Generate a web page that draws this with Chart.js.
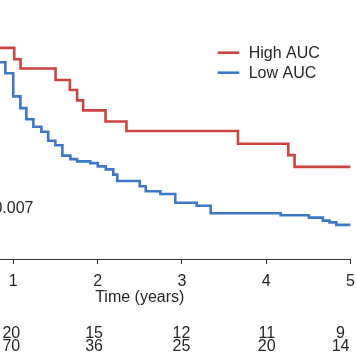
<!DOCTYPE html>
<html><head><meta charset="utf-8">
<script src="https://cdn.jsdelivr.net/npm/chart.js@4"></script>
<style>
html,body{margin:0;padding:0;width:356px;height:364px;overflow:hidden;background:#fff;}
#wrap{position:absolute;left:-100px;top:0;width:463px;height:364px;}
canvas{display:block;}
</style></head><body>
<div id="wrap"><canvas id="c" width="463" height="364"></canvas></div>
<script>
// ---- data ----
const xTicks = [1, 2, 3, 4, 5];
const seriesNames = ['High AUC', 'Low AUC'];
const highTimes = [0.8, 1.011, 1.086, 1.501, 1.671, 1.757, 1.828, 2.094, 2.342, 3.665, 4.262, 4.336, 5.0];
const highSurv  = [0.848, 0.802, 0.765, 0.719, 0.679, 0.637, 0.597, 0.552, 0.514, 0.463, 0.417, 0.370, 0.370];
const lowTimes  = [0.8, 0.906, 0.999, 1.084, 1.155, 1.238, 1.333, 1.414, 1.499, 1.582, 1.677, 1.757, 1.913, 2.002, 2.097, 2.186, 2.233, 2.500, 2.571, 2.745, 2.921, 3.175, 3.341, 4.171, 4.506, 4.672, 4.751, 4.831, 5.0];
const lowSurv   = [0.790, 0.746, 0.653, 0.606, 0.561, 0.531, 0.511, 0.475, 0.457, 0.415, 0.401, 0.392, 0.385, 0.372, 0.360, 0.339, 0.313, 0.292, 0.272, 0.261, 0.226, 0.214, 0.184, 0.176, 0.166, 0.154, 0.147, 0.137, 0.137];
const riskTimes = [1, 2, 3, 4, 5];
const highRisk  = [20, 15, 12, 11, 9];
const lowRisk   = [70, 36, 25, 20, 14];
const pText = 'p = 0.007';

// ---- style ----
const FONT = "'Liberation Sans', Arial, sans-serif";
const TXT = '#262626';
const AX = '#333333';
const RED = '#cc4340';
const BLUE = '#3d78c8';

const toPts = (xs, ys) => xs.map((x, i) => ({x, y: ys[i]}));

const overlay = {
  id: 'overlay',
  afterDraw(chart) {
    const ctx = chart.ctx;
    const xs = chart.scales.x;
    ctx.save();
    ctx.font = '16px ' + FONT;
    ctx.fillStyle = TXT;
    ctx.textBaseline = 'middle';
    // legend
    const lx0 = 317.7, lx1 = 339.3, tx = 348.7;
    [[RED, 52.7], [BLUE, 72.7]].forEach((d, i) => {
      ctx.strokeStyle = d[0];
      ctx.lineWidth = 2.6;
      ctx.beginPath(); ctx.moveTo(lx0, d[1]); ctx.lineTo(lx1, d[1]); ctx.stroke();
      ctx.textAlign = 'left';
      ctx.fillText(seriesNames[i], tx, d[1] + 1);
    });
    // p-value
    ctx.textAlign = 'right';
    ctx.fillText(pText, xs.getPixelForValue(0) + 104.5, 208.5);
    // risk table
    const nudge = [-2, -3.5, -0.5, 0.5, -10];
    ctx.textAlign = 'center';
    riskTimes.forEach((t, i) => {
      const px = xs.getPixelForValue(t) + nudge[i];
      ctx.fillText(String(highRisk[i]), px, 333.5);
      ctx.fillText(String(lowRisk[i]), px, 347);
    });
    ctx.restore();
  }
};

new Chart(document.getElementById('c'), {
  type: 'line',
  data: {
    datasets: [
      {label: seriesNames[0], data: toPts(highTimes, highSurv), borderColor: RED, borderWidth: 2.6, stepped: true, pointRadius: 0, fill: false},
      {label: seriesNames[1], data: toPts(lowTimes, lowSurv), borderColor: BLUE, borderWidth: 2.6, stepped: true, pointRadius: 0, fill: false}
    ]
  },
  options: {
    responsive: false,
    animation: false,
    devicePixelRatio: 1,
    layout: {padding: {left: 29, right: 0, top: 10, bottom: 0}},
    plugins: {legend: {display: false}, tooltip: {enabled: false}},
    scales: {
      x: {
        type: 'linear', min: 0, max: 5,
        afterBuildTicks(s) { s.ticks = xTicks.map(v => ({value: v})); },
        ticks: {padding: 8, color: TXT, font: {family: FONT, size: 16}, maxRotation: 0, callback: v => String(v)},
        grid: {drawOnChartArea: false, drawTicks: true, tickLength: 5, color: AX, tickWidth: 1},
        border: {display: true, color: AX, width: 1},
        title: {display: true, text: 'Time (years)', color: TXT, font: {family: FONT, size: 16}, padding: {top: 0, bottom: 57}},
        afterFit(s) { s.height = 105; }
      },
      y: {display: false, min: 0, max: 1}
    }
  },
  plugins: [overlay]
});
</script>
</body></html>
